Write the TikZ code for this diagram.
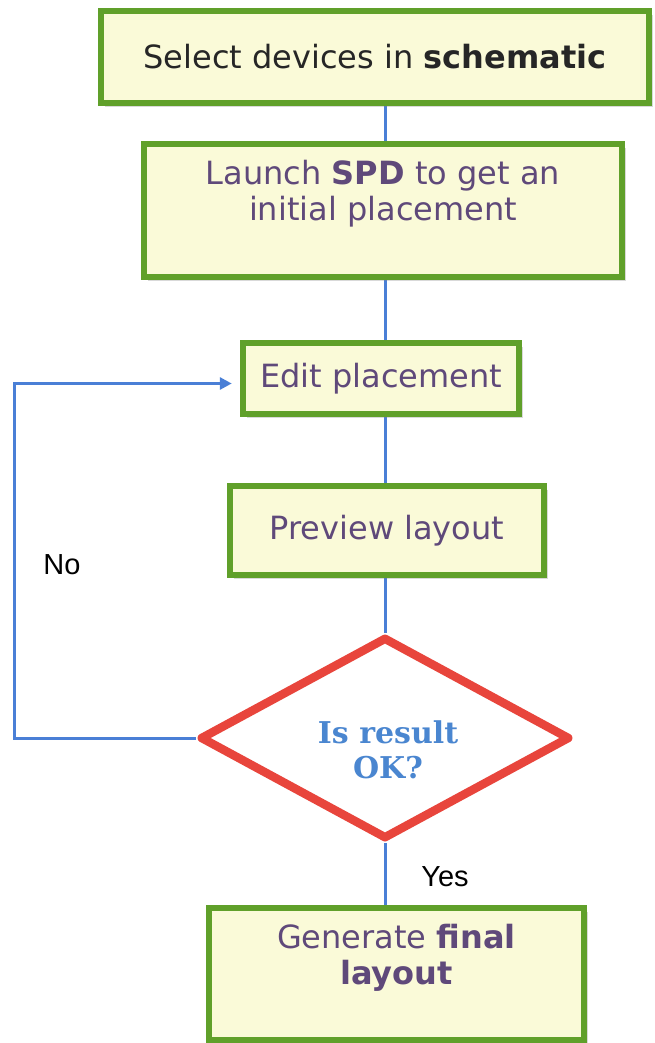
\documentclass[tikz,border=0pt]{standalone}
\usepackage{fontspec}
\setmainfont{DejaVu Sans}
\newfontfamily\askfont{DejaVu Serif}
\newfontfamily\labfont{Liberation Sans}
\usepackage{xcolor}
\usetikzlibrary{shapes.geometric,shadows,arrows.meta,backgrounds}

\definecolor{boxgreen}{HTML}{60A02A}
\definecolor{boxfill}{HTML}{FAFAD8}
\definecolor{linkblue}{HTML}{4A7FD6}
\definecolor{askred}{HTML}{E8453C}
\definecolor{askblue}{HTML}{4A86D0}
\definecolor{steptext}{HTML}{5F497A}

\begin{document}
\begin{tikzpicture}[x=1pt,y=-1pt,
  stepbox/.style={draw=boxgreen, line width=6.5pt, fill=boxfill, inner sep=0pt,
    text=steptext, font=\fontsize{32}{36}\selectfont, align=center,
    drop shadow={shadow xshift=4pt, shadow yshift=-4pt, opacity=0.3}},
  askbox/.style={diamond, draw=askred, line width=8.5pt, line join=round, fill=white, inner sep=0pt},
  asktext/.style={text=askblue, font=\askfont\bfseries\fontsize{30}{35}\selectfont, align=center},
  link/.style={draw=linkblue, line width=3pt},
  answer/.style={font=\labfont\fontsize{29}{34}\selectfont, text=black},
  >={Triangle[length=12pt,width=12pt]}]
\useasboundingbox (0,0) rectangle (655,1043);

\node[stepbox, minimum width=548, minimum height=92, text=black!85] (sel) at (375,57) {Select devices in \textbf{schematic}};
\node[stepbox, minimum width=478, minimum height=133] (spd) at (383,210.5)
  {\parbox[c][100pt][t]{460pt}{\centering Launch \textbf{SPD} to get an\\ initial placement}};
\node[stepbox, minimum width=276, minimum height=71] (edit) at (381,378.5) {Edit placement};
\node[stepbox, minimum width=314, minimum height=89] (prev) at (387,530.5) {Preview layout};
\node[askbox, minimum width=370, minimum height=202] (ask) at (385,738) {};
\node[asktext] (asklabel) at (388,750) {Is result\\OK?};
\node[stepbox, minimum width=375, minimum height=132] (gen) at (396.5,974)
  {\parbox[c][100pt][t]{370pt}{\centering Generate \textbf{final}\\ \textbf{layout}}};

\node[answer] (no) at (62,565) {No};
\node[answer] (yes) at (445,877) {Yes};
\coordinate (turn) at (14,738);

\begin{scope}[on background layer]
\draw[link] (sel.south -| ask.north) -- (spd.north -| ask.north);
\draw[link] (spd.south -| ask.north) -- (edit.north -| ask.north);
\draw[link] (edit.south -| ask.north) -- (prev.north -| ask.north);
\draw[link] (prev.south -| ask.north) -- (ask.north);
\draw[link] (ask.south) -- (gen.north -| ask.south);
\end{scope}
\draw[link, ->, shorten >=8pt] (ask.west) -- (turn) |- ([yshift=-5pt]edit.west);
\end{tikzpicture}
\end{document}
